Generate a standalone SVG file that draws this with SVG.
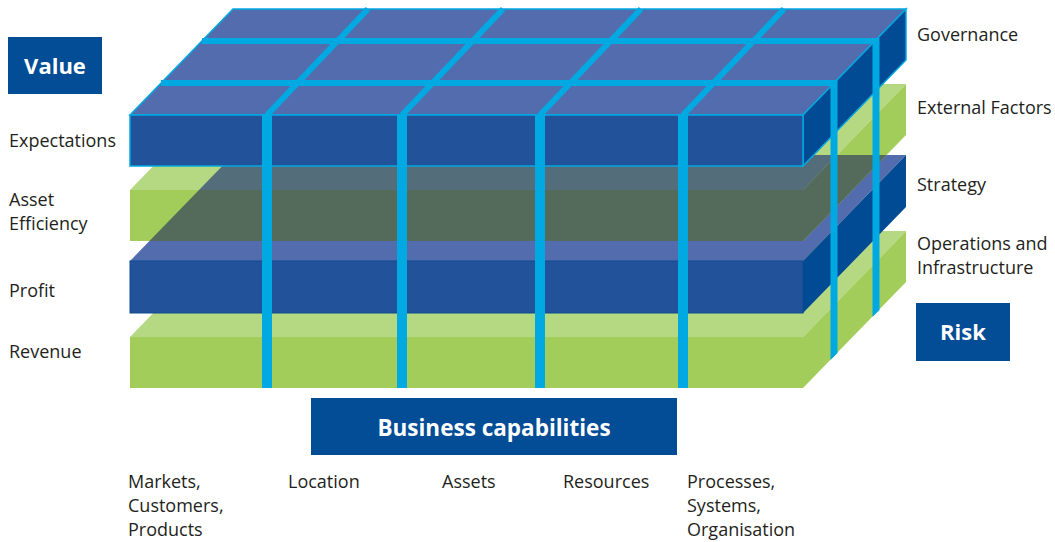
<svg xmlns="http://www.w3.org/2000/svg" width="1055" height="542" viewBox="0 0 1055 542">
  <defs>
    <style>
      .lbl { font-family: "Open Sans", "Noto Sans", "Liberation Sans", sans-serif; font-size: 18px; fill: #231F20; }
      .ttl { font-family: "Open Sans", "Noto Sans", "Liberation Sans", sans-serif; font-weight: bold; fill: #FFFFFF; text-anchor: middle; }
      .box { fill: #034C96; }
      .gTop { fill: #B5D882; }
      .gFront { fill: #A2CD5A; }
      .bTop { fill: #536CAD; }
      .bFront { fill: #22539A; }
      .bSide { fill: #004B93; }
      .ovDark { fill: #546A5A; }
      .ovGrey { fill: #546D7B; }
      .cyanFill { fill: #00A9E2; }
      .grid { stroke: #00A9E2; stroke-width: 6; fill: none; }
      .edge { stroke: #00A9E2; stroke-width: 1.5; }
    </style>
    <clipPath id="profitTopClip">
      <polygon points="130,261 803,261 906,155 233,155"/>
    </clipPath>
  </defs>
  <rect width="1055" height="542" fill="#FFFFFF"/>

  <!-- Revenue / Operations and Infrastructure slab -->
  <g id="slab-revenue">
    <polygon class="gTop" points="130,337 803,337 906,231 233,231"/>
    <rect class="gFront" x="130" y="337" width="673" height="51"/>
    <polygon class="gFront" points="803,337 906,231 906,282 803,388"/>
  </g>

  <!-- Profit / Strategy slab -->
  <g id="slab-profit">
    <polygon class="bTop" points="130,261 803,261 906,155 233,155"/>
    <rect class="bFront" x="130" y="261" width="673" height="52" stroke="#0D4A92" stroke-width="1"/>
    <polygon class="bSide" points="803,261 906,155 906,207 803,313"/>
  </g>

  <!-- Asset Efficiency / External Factors slab -->
  <g id="slab-asset">
    <polygon class="gTop" points="130,190 803,190 906,84 233,84"/>
    <rect class="gFront" x="130" y="190" width="673" height="51"/>
    <polygon class="gFront" points="803,190 906,84 906,135 803,241"/>
    <g clip-path="url(#profitTopClip)">
      <polygon class="ovGrey" points="130,190 803,190 906,84 233,84"/>
      <rect class="ovDark" x="130" y="190" width="673" height="51"/>
      <polygon class="ovDark" points="803,190 906,84 906,135 803,241"/>
    </g>
  </g>

  <!-- Expectations / Governance slab -->
  <g id="slab-expectations">
    <polygon class="bTop edge" points="130,115 803,115 906,9 233,9"/>
    <polygon class="bSide edge" points="803,115 906,9 906,60 803,166"/>
    <rect class="bFront edge" x="130" y="115" width="673" height="51"/>
  </g>

  <!-- grid lines and pillars -->
  <g id="connectors">
    <line class="grid" x1="161" y1="83" x2="837" y2="83"/>
    <line class="grid" x1="202" y1="41" x2="879" y2="41"/>
    <line class="grid" x1="267" y1="115" x2="368" y2="9"/>
    <line class="grid" x1="402" y1="115" x2="503" y2="9"/>
    <line class="grid" x1="540" y1="115" x2="641" y2="9"/>
    <line class="grid" x1="683" y1="115" x2="784" y2="9"/>
    <rect class="cyanFill" x="262" y="114" width="10" height="274"/>
    <rect class="cyanFill" x="397" y="114" width="10" height="274"/>
    <rect class="cyanFill" x="535" y="114" width="10" height="274"/>
    <rect class="cyanFill" x="678" y="114" width="10" height="274"/>
    <polygon class="cyanFill" points="830.5,80 837.5,80 837.5,353 830.5,360"/>
    <polygon class="cyanFill" points="872.5,38 879.5,38 879.5,310 872.5,317"/>
  </g>

  <!-- left labels -->
  <g id="value">
    <rect class="box" x="8" y="37" width="94" height="57"/>
    <text class="ttl" x="55" y="74" font-size="22">Value</text>
  </g>
  <g id="label-expectations"><text class="lbl" x="9" y="147">Expectations</text></g>
  <g id="label-asset-efficiency">
    <text class="lbl" x="9" y="206">Asset</text>
    <text class="lbl" x="9" y="230">Efficiency</text>
  </g>
  <g id="label-profit"><text class="lbl" x="9" y="297">Profit</text></g>
  <g id="label-revenue"><text class="lbl" x="9" y="358">Revenue</text></g>

  <!-- right labels -->
  <g id="label-governance"><text class="lbl" x="917" y="41">Governance</text></g>
  <g id="label-external"><text class="lbl" x="917" y="114">External Factors</text></g>
  <g id="label-strategy"><text class="lbl" x="917" y="191">Strategy</text></g>
  <g id="label-operations">
    <text class="lbl" x="917" y="250">Operations and</text>
    <text class="lbl" x="917" y="274">Infrastructure</text>
  </g>
  <g id="risk">
    <rect class="box" x="916" y="303" width="94" height="58"/>
    <text class="ttl" x="963" y="340" font-size="22">Risk</text>
  </g>

  <!-- bottom -->
  <g id="business-capabilities">
    <rect class="box" x="311" y="398" width="366" height="57"/>
    <text class="ttl" x="494" y="436" font-size="22.5">Business capabilities</text>
  </g>
  <g id="label-markets">
    <text class="lbl" x="128" y="488">Markets,</text>
    <text class="lbl" x="128" y="512">Customers,</text>
    <text class="lbl" x="128" y="536">Products</text>
  </g>
  <g id="label-location"><text class="lbl" x="288" y="488">Location</text></g>
  <g id="label-assets"><text class="lbl" x="442" y="488">Assets</text></g>
  <g id="label-resources"><text class="lbl" x="563" y="488">Resources</text></g>
  <g id="label-processes">
    <text class="lbl" x="687" y="488">Processes,</text>
    <text class="lbl" x="687" y="512">Systems,</text>
    <text class="lbl" x="687" y="536">Organisation</text>
  </g>
</svg>
